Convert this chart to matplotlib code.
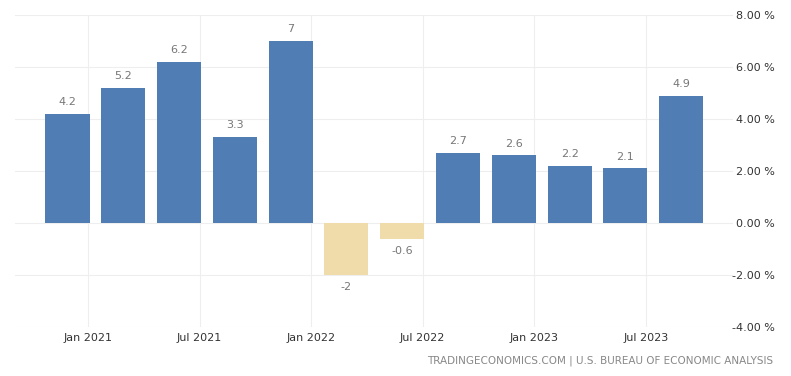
import matplotlib.pyplot as plt

# quarterly GDP growth, annualized (%)
quarters = ['Q4 2020', 'Q1 2021', 'Q2 2021', 'Q3 2021', 'Q4 2021', 'Q1 2022',
            'Q2 2022', 'Q3 2022', 'Q4 2022', 'Q1 2023', 'Q2 2023', 'Q3 2023']
growth = [4.2, 5.2, 6.2, 3.3, 7, -2, -0.6, 2.7, 2.6, 2.2, 2.1, 4.9]
tick_labels = ['Jan 2021', 'Jul 2021', 'Jan 2022', 'Jul 2022', 'Jan 2023', 'Jul 2023']
y_ticks = [-4, -2, 0, 2, 4, 6, 8]

blue = '#4f7db4'
tan = '#f0dcaa'

fig = plt.figure(figsize=(7.91, 3.76), dpi=100)
ax = fig.add_axes([0.019, 0.130, 0.908, 0.830])

# months since Jan 2021, bars sit just before each quarter's end
x = [3 * i - 1.1 for i in range(len(growth))]
colors = [blue if v >= 0 else tan for v in growth]
ax.bar(x, growth, width=2.37, color=colors, zorder=2)

for xi, v in zip(x, growth):
    label = f'{v:g}'
    if v >= 0:
        ax.annotate(label, (xi, v), xytext=(0, 5), textcoords='offset points',
                    ha='center', va='bottom', fontsize=8, color='#777777')
    else:
        ax.annotate(label, (xi, v), xytext=(0, -5), textcoords='offset points',
                    ha='center', va='top', fontsize=8, color='#777777')

ax.set_xlim(-3.92, 34.7)
ax.set_ylim(-4, 8)
ax.set_xticks([0, 6, 12, 18, 24, 30])
ax.set_xticklabels(tick_labels, fontsize=8, color='#333333')
ax.set_yticks(y_ticks)
ax.set_yticklabels([f'{t:.2f} %' for t in y_ticks], fontsize=8, color='#333333',
                   ha='right')
ax.yaxis.tick_right()
ax.tick_params(axis='y', length=0, pad=30)
ax.tick_params(axis='x', length=0, pad=4)

ax.grid(True, color='#eeeeee', linewidth=0.8, zorder=0)
for s in ax.spines.values():
    s.set_visible(False)

fig.text(0.977, 0.04, 'TRADINGECONOMICS.COM | U.S. BUREAU OF ECONOMIC ANALYSIS',
         ha='right', va='center', fontsize=7.5, color='#888888')

fig.savefig('out.png', dpi=100)
